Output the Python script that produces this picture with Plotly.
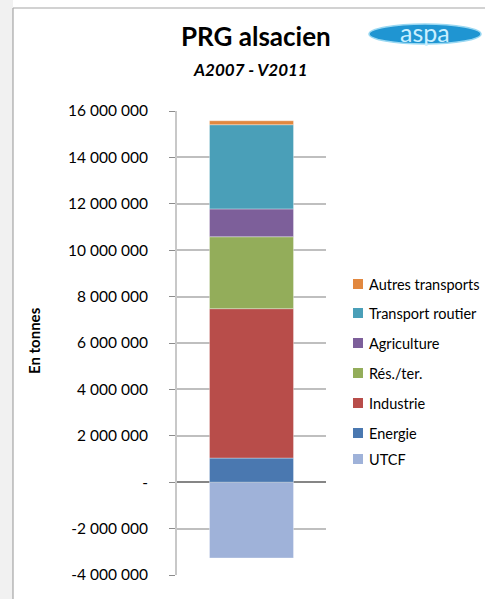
import plotly.graph_objects as go

# Émissions de gaz à effet de serre (PRG), Alsace, en tonnes
secteurs = ["UTCF", "Energie", "Industrie", "Rés./ter.", "Agriculture",
            "Transport routier", "Autres transports"]
valeurs = [-3270000, 1040000, 6440000, 3100000, 1200000, 3630000, 170000]
couleurs = ["#9fb2d9", "#4a78b0", "#b84d4a", "#93ad5a", "#7d5f9a",
            "#4a9fb8", "#e2883f"]

tick_vals = [-4000000, -2000000, 0, 2000000, 4000000, 6000000, 8000000,
             10000000, 12000000, 14000000, 16000000]
tick_text = ["-4 000 000", "-2 000 000", "-", "2 000 000", "4 000 000",
             "6 000 000", "8 000 000", "10 000 000", "12 000 000",
             "14 000 000", "16 000 000"]

W, H = 485, 599
L, R, T, B = 177, 326, 111, 575   # plot area in pixels


def px(x):
    return (x - L) / (R - L)


def py(y):
    return (B - y) / (B - T)


fig = go.Figure()
for nom, val, col in zip(secteurs, valeurs, couleurs):
    fig.add_trace(go.Bar(
        x=["PRG"], y=[val], name=nom,
        marker=dict(color=col, line=dict(color="rgba(255,255,255,0.35)", width=1)),
        hovertemplate="%{y:,.0f} t<extra>" + nom + "</extra>",
    ))

shapes = [
    # left margin strip and chart frame
    dict(type="rect", xref="paper", yref="paper", x0=px(0), x1=px(13),
         y0=py(H + 5), y1=py(-5), fillcolor="#f1f1f1", line=dict(width=0),
         layer="below"),
    dict(type="line", xref="paper", yref="paper", x0=px(13), x1=px(13),
         y0=py(H + 5), y1=py(8), line=dict(color="#a6a6a6", width=1.2)),
    dict(type="line", xref="paper", yref="paper", x0=px(13), x1=px(W + 5),
         y0=py(8), y1=py(8), line=dict(color="#a6a6a6", width=1.2)),
    # aspa logo
    dict(type="circle", xref="paper", yref="paper", x0=px(369), x1=px(481),
         y0=py(44), y1=py(24), fillcolor="#1f95d2",
         line=dict(color="#9ad8f2", width=1.5)),
]

annotations = [
    dict(text="<b>PRG alsacien</b>", x=px(256), y=py(36), xref="paper",
         yref="paper", showarrow=False, xanchor="center", yanchor="middle",
         font=dict(family="Lato", size=26, color="#000000")),
    dict(text="<b><i>A2007 - V2011</i></b>", x=px(250), y=py(70), xref="paper",
         yref="paper", showarrow=False, xanchor="center", yanchor="middle",
         font=dict(family="Lato", size=17, color="#000000")),
    dict(text="aspa", x=px(425), y=py(32), xref="paper", yref="paper",
         showarrow=False, xanchor="center", yanchor="middle",
         font=dict(family="Lato", size=25, color="#c9efff")),
    dict(text="<b>En tonnes</b>", x=px(34), y=py(341), xref="paper",
         yref="paper", showarrow=False, xanchor="center", yanchor="middle",
         textangle=-90, font=dict(family="Lato", size=15, color="#000000")),
]

# Legend: top entry is the last stacked series
legend_rows = [284, 313, 343, 373, 403, 433, 459]
for row, nom, col in zip(legend_rows, secteurs[::-1], couleurs[::-1]):
    shapes.append(dict(type="rect", xref="paper", yref="paper",
                       x0=px(353), x1=px(363), y0=py(row + 5), y1=py(row - 5),
                       fillcolor=col, line=dict(width=0)))
    annotations.append(dict(text=nom, x=px(367), y=py(row), xref="paper",
                            yref="paper", showarrow=False, xanchor="left",
                            yanchor="middle",
                            font=dict(family="Lato", size=14.5, color="#000000")))

fig.update_layout(
    width=W, height=H,
    margin=dict(l=L, r=W - R, t=T, b=H - B, pad=0),
    paper_bgcolor="white", plot_bgcolor="white",
    font=dict(family="Lato", color="#000000"),
    barmode="relative", bargap=0.436,
    showlegend=False,
    shapes=shapes,
    annotations=annotations,
)

fig.update_xaxes(showticklabels=False, showgrid=False, zeroline=False,
                 showline=False, ticks="", fixedrange=True)
fig.update_yaxes(
    range=[-4000000, 16000000], tickvals=tick_vals, ticktext=tick_text,
    tickfont=dict(family="Lato", size=15.5, color="#000000"),
    ticklabelstandoff=18,
    showgrid=True, gridcolor="#bfbfbf", gridwidth=1.5,
    zeroline=True, zerolinecolor="#868686", zerolinewidth=1.5,
    showline=True, linecolor="#c8c8c8", linewidth=2,
    ticks="outside", ticklen=6, tickcolor="#8c8c8c", tickwidth=1,
    automargin=False,
)

fig.write_html("out.html")
